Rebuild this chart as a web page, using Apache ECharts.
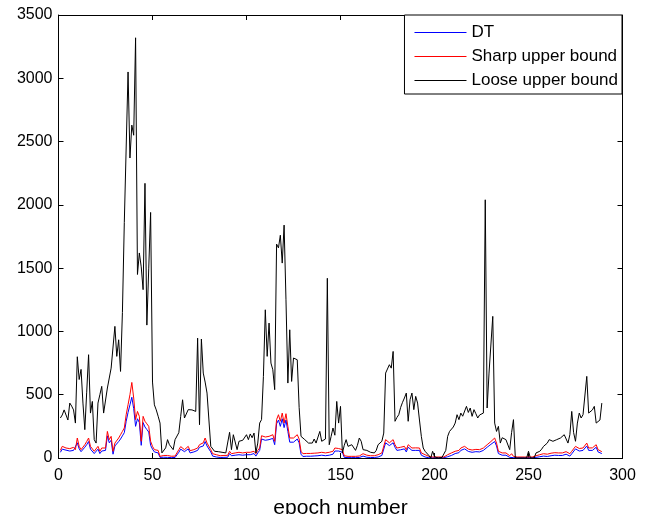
<!DOCTYPE html>
<html>
<head>
<meta charset="utf-8">
<script src="https://cdn.jsdelivr.net/npm/echarts@6/dist/echarts.min.js"></script>
<style>
  html, body { margin: 0; padding: 0; background: #fff; }
  #chart { width: 646px; height: 514px; }
</style>
</head>
<body>
<div id="chart"></div>
<script>
// values read per epoch (epoch 1 .. 289)
const dtValues = [
  45, 70, 68, 62, 58, 55, 62, 60, 45, 120, 72, 50, 60, 85, 105, 130, 70, 80, 35, 20,
  70, 35, 55, 45, 60, 175, 120, 140, 30, 95, 110, 130, 150, 175, 200, 290, 360, 420, 480, 390,
  250, 310, 280, 100, 280, 245, 225, 205, 100, 70, 48, 58, 40, 5, 5, 6, 8, 5, 4, 3,
  3, 4, 5, 45, 70, 85, 50, 48, 72, 40, 52, 48, 35, 60, 85, 70, 95, 130, 95, 85,
  48, 15, 10, 8, 6, 4, 4, 5, 6, 6, 35, 18, 20, 22, 24, 26, 18, 22, 35, 26,
  22, 26, 30, 35, 15, 40, 60, 150, 145, 140, 130, 145, 130, 155, 105, 270, 300, 250, 310, 240,
  300, 210, 125, 115, 125, 115, 150, 120, 30, 12, 12, 14, 18, 14, 12, 16, 18, 18, 20, 22,
  20, 18, 20, 22, 18, 30, 55, 50, 55, 60, 45, 5, 4, 3, 3, 3, 4, 3, 4, 4,
  4, 15, 10, 6, 5, 4, 4, 4, 4, 8, 12, 20, 30, 120, 110, 98, 85, 120, 85, 60,
  72, 65, 60, 72, 48, 85, 70, 60, 72, 60, 48, 60, 22, 12, 8, 5, 2, 2, 2, 2,
  2, 2, 2, 2, 2, 2, 10, 15, 20, 28, 35, 48, 42, 60, 66, 72, 60, 52, 48, 45,
  42, 50, 52, 48, 55, 60, 48, 85, 95, 108, 120, 130, 95, 35, 28, 22, 16, 22, 28, 5,
  16, 3, 2, 2, 2, 2, 2, 2, 2, 2, 2, 2, 2, 5, 8, 10, 12, 15, 10, 12,
  15, 18, 20, 22, 25, 20, 15, 20, 25, 30, 33, 15, 33, 48, 72, 60, 55, 52, 60, 65,
  95, 60, 48, 60, 72, 85, 48, 38, 35
];
const sharpValues = [
  60, 92, 85, 79, 76, 74, 80, 84, 66, 158, 92, 66, 80, 105, 130, 158, 92, 105, 53, 40,
  92, 53, 79, 66, 79, 210, 145, 171, 53, 118, 132, 158, 184, 210, 237, 342, 421, 500, 597, 474,
  303, 368, 329, 132, 329, 290, 270, 250, 132, 92, 66, 79, 60, 13, 18, 20, 26, 20, 15, 14,
  13, 15, 18, 66, 90, 105, 66, 66, 92, 58, 70, 66, 53, 79, 105, 90, 120, 158, 118, 105,
  66, 34, 30, 26, 22, 18, 18, 20, 21, 21, 53, 34, 38, 40, 42, 45, 34, 40, 53, 45,
  40, 45, 48, 53, 34, 60, 79, 176, 170, 166, 158, 171, 158, 184, 132, 303, 342, 290, 355, 276,
  350, 250, 158, 145, 158, 145, 184, 150, 53, 34, 34, 36, 40, 36, 34, 38, 40, 40, 42, 45,
  42, 40, 42, 45, 40, 53, 79, 70, 75, 79, 66, 18, 15, 13, 13, 13, 13, 13, 15, 16,
  18, 34, 26, 22, 18, 18, 18, 18, 20, 26, 30, 40, 53, 145, 132, 120, 105, 145, 105, 79,
  92, 85, 79, 92, 66, 105, 90, 79, 92, 80, 66, 79, 40, 30, 26, 20, 13, 8, 8, 8,
  8, 8, 8, 8, 8, 8, 26, 33, 40, 47, 53, 66, 60, 79, 85, 92, 80, 70, 66, 63,
  60, 68, 71, 66, 72, 79, 66, 105, 118, 130, 145, 158, 118, 53, 45, 40, 34, 40, 45, 18,
  34, 13, 10, 8, 8, 8, 8, 8, 8, 8, 8, 8, 12, 18, 22, 26, 30, 34, 26, 30,
  34, 38, 40, 42, 45, 40, 34, 40, 45, 50, 53, 34, 53, 66, 92, 79, 75, 71, 79, 85,
  118, 79, 66, 80, 92, 105, 66, 53, 50
];
const looseValues = [
  316, 340, 380, 395, 300, 434, 410, 380, 276, 800, 620, 700, 434, 224, 520, 816, 355, 447, 145, 118,
  434, 500, 566, 355, 355, 553, 553, 710, 724, 1040, 803, 934, 684, 1150, 1860, 1860, 3050, 2370, 2630, 2550,
  3320, 1450, 1620, 1510, 1330, 2170, 1050, 1500, 1940, 600, 420, 380, 330, 276, 40, 45, 80, 145, 105, 118,
  66, 145, 132, 200, 329, 460, 316, 316, 382, 382, 380, 387, 368, 947, 263, 940, 671, 600, 513, 500,
  92, 105, 53, 40, 50, 40, 45, 40, 40, 40, 203, 66, 184, 171, 66, 132, 145, 140, 150, 184,
  145, 190, 160, 197, 40, 118, 276, 303, 645, 1171, 803, 1066, 750, 697, 540, 1690, 1660, 1760, 1540, 1840,
  1250, 592, 1013, 605, 790, 776, 776, 400, 171, 158, 145, 160, 118, 132, 118, 150, 118, 130, 210, 132,
  145, 150, 1420, 105, 170, 237, 180, 447, 276, 408, 40, 100, 145, 92, 80, 105, 118, 60, 100, 158,
  132, 66, 80, 60, 53, 45, 40, 40, 60, 105, 120, 132, 197, 671, 684, 737, 710, 842, 290, 320,
  342, 400, 440, 474, 513, 290, 461, 513, 382, 487, 434, 300, 171, 79, 53, 40, 20, 0, 53, 10,
  0, 0, 0, 5, 13, 60, 171, 210, 215, 245, 276, 342, 303, 355, 330, 340, 408, 360, 395, 329,
  382, 350, 316, 340, 355, 355, 2040, 395, 671, 660, 1119, 276, 210, 250, 118, 160, 150, 145, 140, 66,
  200, 303, 0, 0, 0, 0, 0, 0, 0, 53, 0, 0, 0, 40, 45, 53, 70, 92, 105, 118,
  145, 140, 132, 140, 145, 150, 158, 170, 184, 197, 118, 184, 368, 200, 132, 276, 355, 316, 342, 355,
  645, 355, 355, 380, 408, 276, 276, 300, 434
];
const seriesNames = ['DT', 'Sharp upper bound', 'Loose upper bound'];
const seriesColors = ['#0000ff', '#ff0000', '#000000'];
const xTicks = [0, 50, 100, 150, 200, 250, 300];
const yTicks = [0, 500, 1000, 1500, 2000, 2500, 3000, 3500];

const FONT = '"Liberation Sans", Arial, Helvetica, sans-serif';

function toPoints(values) {
  return values.map((v, i) => [i + 1, v]);
}

const chart = echarts.init(document.getElementById('chart'), null, { renderer: 'canvas' });

const xBase = {
  type: 'value',
  min: xTicks[0],
  max: xTicks[xTicks.length - 1],
  interval: 50,
  splitLine: { show: false },
  axisLine: { show: true, onZero: false, lineStyle: { color: '#000', width: 1 } },
  axisTick: { show: true, inside: true, length: 5, lineStyle: { color: '#000' } },
};
const yBase = {
  type: 'value',
  min: yTicks[0],
  max: yTicks[yTicks.length - 1],
  interval: 500,
  splitLine: { show: false },
  axisLine: { show: true, onZero: false, lineStyle: { color: '#000', width: 1 } },
  axisTick: { show: true, inside: true, length: 5, lineStyle: { color: '#000' } },
};

const allValues = [dtValues, sharpValues, looseValues];

const option = {
  animation: false,
  backgroundColor: '#fff',
  grid: {
    left: 58.5, right: 23.5, top: 15, bottom: 56,
    containLabel: false,
    outerBoundsMode: 'none',
  },
  legend: {
    orient: 'vertical',
    right: 24,
    top: 15,
    backgroundColor: '#fff',
    borderColor: '#000',
    borderWidth: 1,
    padding: [9, 4, 5, 10],
    icon: 'rect',
    itemWidth: 52,
    itemHeight: 1,
    itemGap: 7,
    textStyle: { fontFamily: FONT, fontSize: 17, color: '#000' },
    data: seriesNames,
  },
  xAxis: [
    Object.assign({}, xBase, {
      position: 'bottom',
      name: 'epoch number',
      nameLocation: 'middle',
      nameGap: 40,
      nameTextStyle: { fontFamily: FONT, fontSize: 21, color: '#000' },
      axisLabel: { fontFamily: FONT, fontSize: 16, color: '#000', margin: 10 },
    }),
    Object.assign({}, xBase, { position: 'top', axisLabel: { show: false } }),
  ],
  yAxis: [
    Object.assign({}, yBase, {
      position: 'left',
      axisLabel: {
        fontFamily: FONT, fontSize: 16, color: '#000', margin: 6,
        formatter: (v) => String(v),
      },
    }),
    Object.assign({}, yBase, { position: 'right', axisLabel: { show: false } }),
  ],
  series: seriesNames.map((name, i) => ({
    name: name,
    type: 'line',
    symbol: 'none',
    lineStyle: { color: seriesColors[i], width: 1 },
    itemStyle: { color: seriesColors[i] },
    data: toPoints(allValues[i]),
  })),
};

chart.setOption(option);
</script>
</body>
</html>
